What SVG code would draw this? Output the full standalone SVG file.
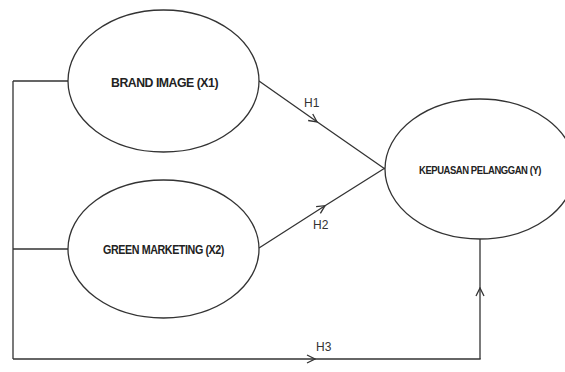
<svg xmlns="http://www.w3.org/2000/svg" width="565" height="372" viewBox="0 0 565 372">
<style>
.node ellipse{fill:#fff;stroke:#333;stroke-width:1.3}
.lbl{font-family:"Liberation Sans",Arial,sans-serif;font-weight:bold;fill:#222;text-anchor:middle;letter-spacing:-0.5px}
.conn{fill:none;stroke:#333;stroke-width:1.3}
.h{font-family:"Liberation Sans",Arial,sans-serif;font-size:12px;fill:#333}
</style>
<defs>
<marker id="chev" viewBox="0 0 10 10" refX="9" refY="5" markerWidth="10" markerHeight="10" markerUnits="userSpaceOnUse" orient="auto">
<path d="M1,1 L9,5 L1,9" fill="none" stroke="#333" stroke-width="1.3"/>
</marker>
</defs>
<rect width="565" height="372" fill="#fff"/>
<g id="connectors">
<path class="conn" d="M13,81 H68 M13,81 V249 H68 M13,249 V359"/>
<path class="conn" d="M13,359 L315,359 L480.65,359" marker-mid="url(#chev)"/>
<path class="conn" d="M480,359 L480,288 L480,239" marker-mid="url(#chev)"/>
<path class="conn" d="M259,81 L317,121.8 L385,169" marker-mid="url(#chev)"/>
<path class="conn" d="M259,248 L325,205.7 L385,168" marker-mid="url(#chev)"/>
<text class="h" x="304" y="107">H1</text>
<text class="h" x="313" y="229">H2</text>
<text class="h" x="316" y="351">H3</text>
</g>
<g id="brand-image" class="node">
<ellipse cx="163.5" cy="81" rx="95.5" ry="71"/>
<text class="lbl" x="164.5" y="86.5" font-size="13" textLength="107" lengthAdjust="spacingAndGlyphs">BRAND IMAGE (X1)</text>
</g>
<g id="green-marketing" class="node">
<ellipse cx="163.5" cy="249" rx="95.5" ry="69"/>
<text class="lbl" x="163.5" y="253.5" font-size="13" textLength="121" lengthAdjust="spacingAndGlyphs">GREEN MARKETING (X2)</text>
</g>
<g id="kepuasan" class="node">
<ellipse cx="480" cy="169" rx="95" ry="70"/>
<text class="lbl" x="480" y="174" font-size="11" textLength="122" lengthAdjust="spacingAndGlyphs">KEPUASAN PELANGGAN (Y)</text>
</g>
</svg>
